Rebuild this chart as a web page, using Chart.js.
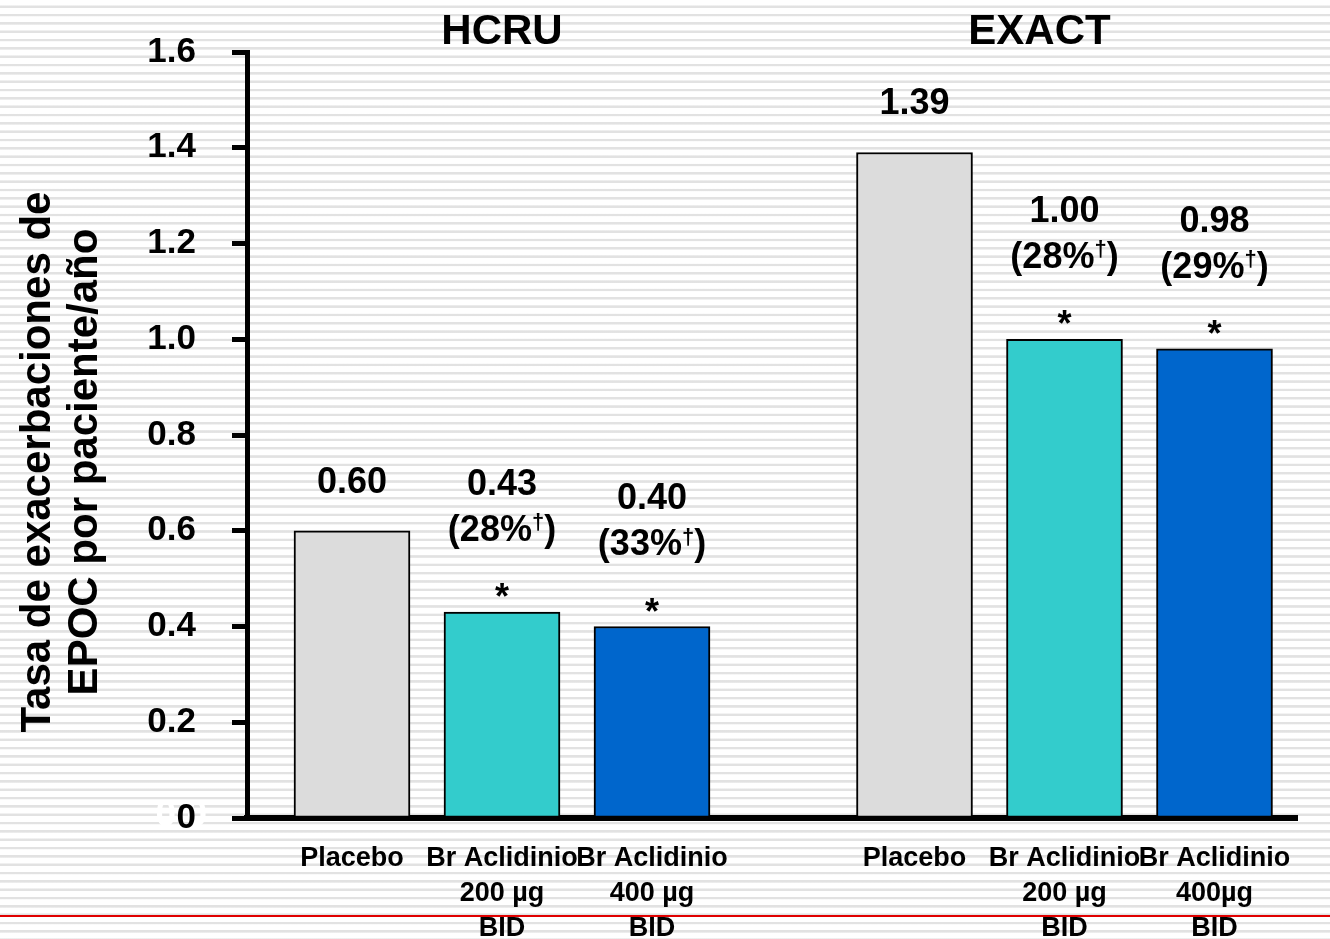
<!DOCTYPE html>
<html>
<head>
<meta charset="utf-8">
<script src="https://cdn.jsdelivr.net/npm/chart.js@4/dist/chart.umd.min.js"></script>
<style>
  html, body { margin: 0; padding: 0; }
  body {
    width: 1330px; height: 939px; position: relative; overflow: hidden;
    background: repeating-linear-gradient(180deg, #ffffff 0px, #ffffff 5.2px, #e2e2e2 5.8px, #e2e2e2 7.6px, #ffffff 8.33px);
  }
  #redline { position: absolute; left: 0; top: 915px; width: 1330px; height: 2px; background: #e00000; }
  #wrap { position: absolute; left: 0; top: 0; width: 1330px; height: 939px; }
</style>
</head>
<body>
<div id="redline"></div>
<div id="wrap"><canvas id="grafico" width="1330" height="939"></canvas></div>
<script>
// Datos del gráfico
const grupos = ['HCRU', 'EXACT'];
const grupoDeBarra = [0, 0, 0, 1, 1, 1];
const tratamientoDeBarra = [0, 1, 2, 0, 1, 2];
const etiquetasX = [
  ['Placebo'], ['Br Aclidinio', '200 µg', 'BID'], ['Br Aclidinio', '400 µg', 'BID'],
  ['Placebo'], ['Br Aclidinio', '200 µg', 'BID'], ['Br Aclidinio', '400µg', 'BID']
];
const tasas = [0.60, 0.43, 0.40, 1.39, 1.00, 0.98];
const etiquetasValor = ['0.60', '0.43', '0.40', '1.39', '1.00', '0.98'];
const reducciones = [null, '28%', '33%', null, '28%', '29%'];
const significativo = [false, true, true, false, true, true];
const ticksY = [0, 0.2, 0.4, 0.6, 0.8, 1.0, 1.2, 1.4, 1.6];
const etiquetasTicksY = ['0', '0.2', '0.4', '0.6', '0.8', '1.0', '1.2', '1.4', '1.6'];
const tituloY = ['Tasa de exacerbaciones de', 'EPOC por paciente/año'];

// estilo
const coloresTratamiento = ['#dcdcdc', '#33cccc', '#0066cc'];
const separacionGrupos = 3.75;
const FUENTE = 'Liberation Sans, Arial, sans-serif';

const posX = grupoDeBarra.map((g, i) => g * separacionGrupos + tratamientoDeBarra[i]);

const anotaciones = {
  id: 'anotaciones',
  beforeDraw(chart) {
    // "0.0" blanco detrás del 0 (como en la diapositiva)
    const { ctx, scales: { y } } = chart;
    ctx.save();
    ctx.font = 'bold 37px ' + FUENTE;
    ctx.fillStyle = '#ffffff';
    ctx.textAlign = 'right';
    ctx.textBaseline = 'middle';
    ctx.fillText('0.0', y.right - 40, y.getPixelForValue(0) - 2);
    ctx.restore();
  },
  afterDatasetsDraw(chart) {
    const { ctx, scales: { x, y } } = chart;
    ctx.save();
    ctx.fillStyle = '#000';
    ctx.textAlign = 'center';

    // títulos de grupo
    ctx.font = 'bold 42px ' + FUENTE;
    ctx.textBaseline = 'middle';
    grupos.forEach((g, gi) => {
      const idx = posX.filter((p, i) => grupoDeBarra[i] === gi);
      const cx = (x.getPixelForValue(Math.min(...idx)) + x.getPixelForValue(Math.max(...idx))) / 2;
      ctx.fillText(g, cx - gi * 25, chart.chartArea.top - 20);
    });

    // etiquetas sobre las barras
    tasas.forEach((v, i) => {
      const cx = x.getPixelForValue(posX[i]);
      const top = y.getPixelForValue(v);
      ctx.font = 'bold 36px ' + FUENTE;
      ctx.textAlign = 'center';
      ctx.textBaseline = 'middle';
      if (significativo[i]) {
        ctx.textBaseline = 'alphabetic';
        ctx.fillText('*', cx, top - 24 + 21);
        ctx.textBaseline = 'middle';
        dibujarReduccion(ctx, reducciones[i], cx, top - 81);
        ctx.fillText(etiquetasValor[i], cx, top - 127);
      } else {
        ctx.fillText(etiquetasValor[i], cx, top - 48);
      }
    });

    // título del eje Y
    ctx.font = 'bold 42px ' + FUENTE;
    ctx.textAlign = 'center';
    ctx.textBaseline = 'middle';
    tituloY.forEach((t, li) => {
      ctx.save();
      ctx.translate(38 + li * 47, 462);
      ctx.rotate(-Math.PI / 2);
      ctx.fillText(t, 0, 0);
      ctx.restore();
    });
    ctx.restore();
  }
};

function dibujarReduccion(ctx, pct, cx, cy) {
  const fNormal = 'bold 36px ' + FUENTE;
  const fSup = 'bold 22px ' + FUENTE;
  const a = '(' + pct, d = '†', b = ')';
  ctx.font = fNormal;
  const wa = ctx.measureText(a).width, wb = ctx.measureText(b).width;
  ctx.font = fSup;
  const wd = ctx.measureText(d).width;
  let sx = cx - (wa + wd + wb) / 2;
  ctx.textAlign = 'left';
  ctx.font = fNormal;
  ctx.fillText(a, sx, cy);
  ctx.font = fSup;
  ctx.fillText(d, sx + wa, cy - 8);
  ctx.font = fNormal;
  ctx.fillText(b, sx + wa + wd, cy);
  ctx.textAlign = 'center';
}

const ctxGrafico = document.getElementById('grafico').getContext('2d');
new Chart(ctxGrafico, {
  type: 'bar',
  data: {
    datasets: [{
      data: tasas.map((v, i) => ({ x: posX[i], y: v })),
      backgroundColor: tratamientoDeBarra.map(t => coloresTratamiento[t]),
      borderColor: '#000',
      borderWidth: 2,
      borderSkipped: false,
      barThickness: 116
    }]
  },
  options: {
    responsive: false,
    animation: false,
    layout: { padding: { top: 52, right: 33, left: 0, bottom: 0 } },
    plugins: { legend: { display: false }, tooltip: { enabled: false } },
    scales: {
      x: {
        type: 'linear',
        offset: false,
        min: -0.7,
        max: 6.3,
        afterFit: s => { s.height = 121; },
        afterBuildTicks: s => { s.ticks = posX.map(v => ({ value: v })); },
        border: { color: '#000', width: 6 },
        grid: { display: false, drawTicks: false },
        ticks: {
          autoSkip: false,
          maxRotation: 0,
          padding: 23,
          color: '#000',
          font: { family: FUENTE, size: 27, weight: 'bold', lineHeight: 1.3 },
          callback: v => etiquetasX[posX.indexOf(v)]
        }
      },
      y: {
        min: 0,
        max: 1.6,
        afterFit: s => { s.width = 247; s.paddingTop = 0; s.paddingBottom = 0; },
        afterBuildTicks: s => { s.ticks = ticksY.map(v => ({ value: v })); },
        border: { color: '#000', width: 5 },
        grid: { drawOnChartArea: false, drawTicks: true, tickLength: 15, tickWidth: 5, tickColor: '#000' },
        ticks: {
          padding: 36,
          color: '#000',
          font: { family: FUENTE, size: 35, weight: 'bold' },
          callback: (v) => etiquetasTicksY[ticksY.indexOf(v)]
        }
      }
    }
  },
  plugins: [anotaciones]
});
</script>
</body>
</html>
